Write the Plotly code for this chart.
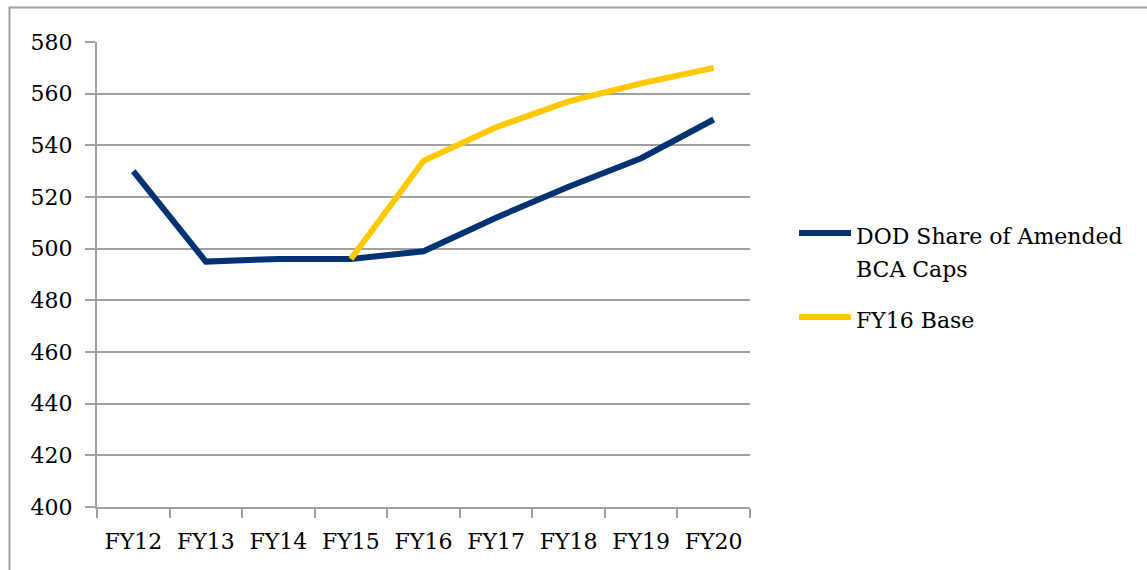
import plotly.graph_objects as go

# Fiscal years on the category axis
years = ["FY12", "FY13", "FY14", "FY15", "FY16", "FY17", "FY18", "FY19", "FY20"]

# Budget levels ($B)
dod_share = [530, 495, 496, 496, 499, 512, 524, 535, 550]
fy16_base = [None, None, None, 496, 534, 547, 557, 564, 570]

series_names = ["DOD Share of Amended<br>BCA Caps", "FY16 Base"]
series_colors = ["#003274", "#FFC800"]

y_ticks = [400, 420, 440, 460, 480, 500, 520, 540, 560, 580]

FONT = "DejaVu Serif"
GRID = "#A0A0A0"

fig = go.Figure()
for name, vals, color in zip(series_names, [dod_share, fy16_base], series_colors):
    fig.add_trace(go.Scatter(
        x=years, y=vals, name=name, mode="lines",
        line=dict(color=color, width=6),
        connectgaps=False, showlegend=False,
    ))

W, H = 1147, 570
L, R, T, B = 97, 750, 42, 507
pw, ph = R - L, B - T


def px_x(p):
    return (p - L) / pw


def px_y(p):
    return (B - p) / ph


# outer frame of the chart area
fig.add_shape(type="rect", xref="paper", yref="paper",
              x0=px_x(9.5), x1=px_x(1160), y0=px_y(7.5), y1=px_y(580),
              line=dict(color=GRID, width=2), layer="below")

# legend drawn beside the plot: swatch row, then one text line per row
legend_swatch_y = [233, 317]
legend_text_y = [[237, 269], [320]]
for sy, ty_list, name, color in zip(legend_swatch_y, legend_text_y, series_names, series_colors):
    fig.add_shape(type="line", xref="paper", yref="paper",
                  x0=px_x(799), x1=px_x(851), y0=px_y(sy), y1=px_y(sy),
                  line=dict(color=color, width=6))
    for ty, part in zip(ty_list, name.split("<br>")):
        fig.add_annotation(xref="paper", yref="paper", x=px_x(854), y=px_y(ty),
                           text=part, showarrow=False, xanchor="left", yanchor="middle",
                           align="left", font=dict(family=FONT, size=22, color="#000000"))

fig.update_layout(
    width=W, height=H,
    margin=dict(l=L, r=W - R, t=T, b=H - B),
    paper_bgcolor="white", plot_bgcolor="white",
    font=dict(family=FONT, size=22, color="#000000"),
)
fig.update_xaxes(
    type="category", range=[-0.5, 8.5], tickson="boundaries",
    showgrid=False, showline=True, linecolor=GRID, linewidth=2,
    ticks="outside", ticklen=9, tickwidth=2, tickcolor=GRID,
    ticklabelstandoff=14,
    tickfont=dict(family=FONT, size=22),
)
fig.update_yaxes(
    range=[400, 580], tickvals=y_ticks,
    showgrid=True, gridcolor=GRID, gridwidth=2,
    showline=True, linecolor=GRID, linewidth=2,
    ticks="outside", ticklen=10, tickwidth=2, tickcolor=GRID,
    ticklabelstandoff=8, zeroline=False,
    tickfont=dict(family=FONT, size=22),
)

fig.write_html("out.html")
